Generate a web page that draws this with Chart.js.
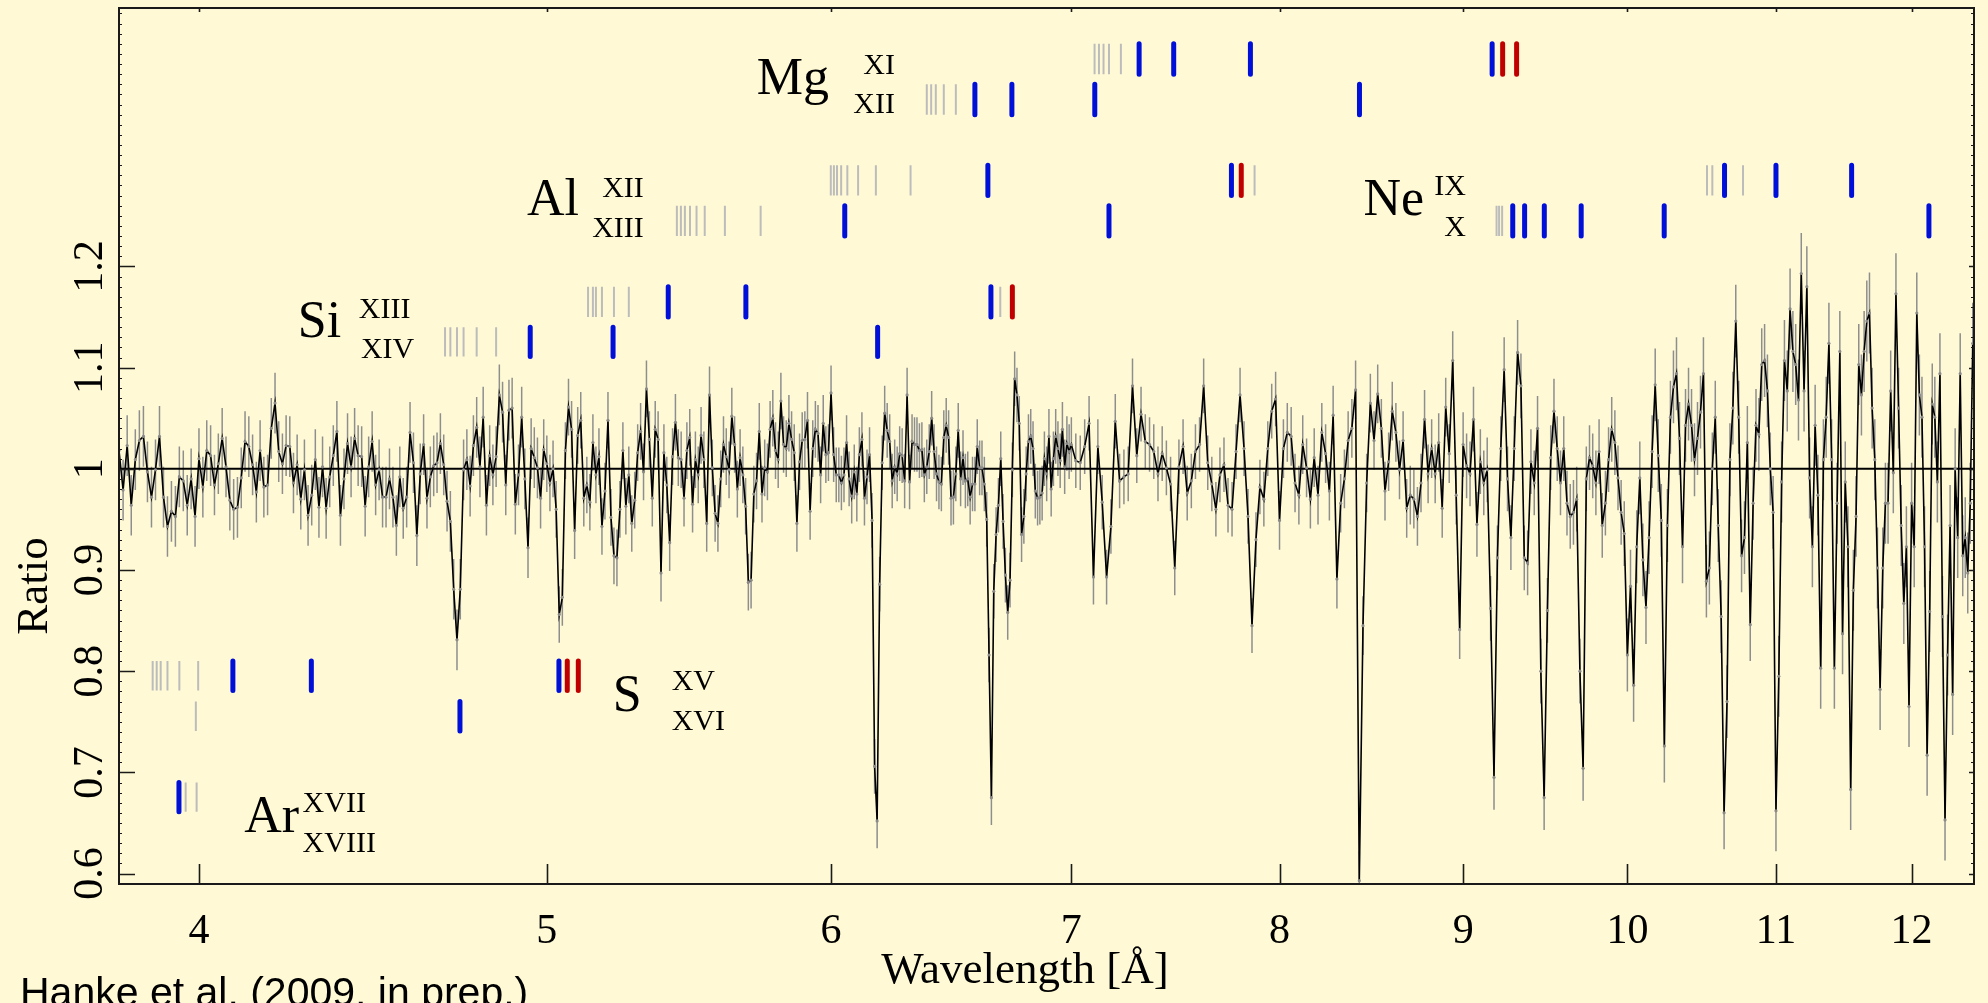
<!DOCTYPE html>
<html>
<head>
<meta charset="utf-8">
<script src="https://cdn.jsdelivr.net/npm/chart.js@4/dist/chart.umd.min.js"></script>
<style>
html,body{margin:0;padding:0;background:#FFFAD5;}
#wrap{width:1988px;height:1003px;position:relative;overflow:hidden;}
canvas{display:block;}
</style>
</head>
<body>
<div id="wrap"><canvas id="c" width="1988" height="1003"></canvas></div>
<script>
// ---------------- DATA ----------------
// Ratio spectrum, bins of 0.01 Å from 3.80 Å to 6.99 Å
const binStartA = 3.80, binWidthA = 0.01;
const ratioA = [
1.018,0.979,1.023,0.964,1.009,1.028,1.032,0.997,0.972,0.999,
1.032,0.972,0.943,0.958,0.953,0.992,0.988,0.964,0.990,0.953,
1.010,0.982,1.018,1.013,0.984,1.005,1.030,1.002,0.969,0.960,
0.962,0.991,1.027,1.022,1.004,0.977,1.018,0.982,0.984,1.040,
1.065,1.017,1.005,1.023,1.022,0.986,1.004,0.970,0.999,0.954,
0.974,1.009,0.962,1.002,0.961,0.992,1.013,1.037,0.954,0.990,
1.025,1.002,1.030,1.013,1.012,0.963,1.002,1.027,0.984,0.999,
0.972,0.972,0.990,0.972,0.944,0.992,0.961,0.972,1.036,1.006,
0.934,0.995,1.024,0.971,0.992,1.003,1.006,1.025,1.004,0.968,
0.948,0.881,0.831,0.881,0.999,1.009,0.983,1.023,1.041,1.002,
1.051,0.964,1.013,0.994,1.012,1.073,1.056,0.984,1.058,1.060,
0.965,0.994,1.051,0.990,0.922,1.020,1.011,1.001,0.971,1.019,
1.005,0.986,1.000,0.960,0.856,0.873,1.018,1.061,1.039,0.939,
1.033,1.048,0.971,0.984,0.967,1.026,0.994,1.012,0.943,0.978,
1.048,0.952,0.914,0.912,0.960,1.018,0.963,0.994,0.946,0.969,
1.016,1.037,0.997,1.079,1.029,0.971,1.039,1.029,0.897,1.016,
0.984,0.927,1.012,1.046,1.011,1.009,0.971,1.018,1.031,0.965,
1.009,0.994,1.033,1.009,0.946,1.073,1.001,0.956,0.946,0.990,
1.024,1.012,0.999,1.052,1.024,0.980,1.011,0.994,0.963,0.888,
0.890,0.975,0.988,1.037,0.975,1.001,0.997,1.039,1.050,1.018,
1.009,1.067,1.024,1.020,1.045,1.029,1.016,0.946,1.007,1.028,
1.029,1.048,0.958,1.020,1.039,1.035,0.994,1.045,1.014,1.016,
1.075,1.014,0.994,0.994,0.986,0.994,1.026,0.990,0.973,0.997,
0.975,1.014,1.029,0.971,0.992,1.014,0.949,0.706,0.652,0.886,
1.006,1.055,1.038,1.027,0.988,1.002,0.995,1.015,1.013,0.988,
1.073,0.987,1.027,1.024,1.024,1.018,1.019,0.994,1.002,1.017,
1.050,1.017,0.995,0.987,0.985,1.031,1.043,1.031,0.971,0.972,
0.995,1.038,0.990,1.011,0.988,0.990,0.972,0.985,0.985,1.022,
1.001,1.001,0.985,0.950,0.816,0.675,0.879,0.935,0.964,1.010,
0.948,0.895,0.858,0.890,0.999,1.089,1.073,1.045,0.935,0.953,
0.995,1.027,1.032,1.020,0.978,0.971,0.972,0.976,1.010,0.995,
1.032,0.980,1.010,1.032,1.020,1.008,1.039,1.002,1.025,1.017
];
// Ratio spectrum, bins of 0.02 Å from 7.00 Å to 12.48 Å
const binStartB = 7.00, binWidthB = 0.02;
const ratioB = [
1.024,1.008,1.006,1.022,1.045,0.893,1.022,0.967,0.893,0.943,
1.047,0.988,0.992,0.995,1.082,1.013,1.054,1.027,1.024,1.017,
0.995,1.015,1.001,0.985,0.902,1.002,1.022,0.976,0.988,1.017,
1.024,1.082,1.006,0.985,0.960,0.994,1.004,0.964,0.960,1.017,
1.073,1.020,0.953,0.845,0.930,0.982,0.970,1.020,1.057,1.069,
0.949,1.020,1.036,1.032,0.986,0.974,1.024,1.001,0.970,1.011,
0.974,1.036,1.015,0.978,1.053,0.891,0.966,0.990,1.028,1.040,
1.078,0.593,0.845,0.986,1.065,1.028,1.074,1.040,0.978,1.007,
1.057,1.036,0.999,1.028,0.961,0.974,0.970,0.953,0.986,1.049,
0.995,1.020,0.995,1.026,0.961,1.061,1.015,1.107,0.974,0.841,
1.024,1.003,0.995,1.049,0.945,1.007,0.986,0.999,0.862,0.695,
0.912,1.020,1.098,0.990,0.932,1.020,1.115,1.082,0.912,0.907,
1.007,0.986,1.040,0.800,0.675,0.860,1.011,1.057,1.020,0.986,
1.020,0.966,0.953,0.957,0.970,0.800,0.704,0.990,1.011,1.003,
0.986,1.017,0.944,0.966,1.009,1.039,1.026,0.991,0.957,0.936,
0.816,0.884,0.786,0.923,0.991,0.910,0.863,0.932,1.017,1.083,
1.013,0.949,0.726,0.944,1.051,1.081,1.094,1.030,0.923,1.043,
1.064,1.043,1.009,1.030,1.056,1.094,0.889,0.902,1.000,1.051,
0.944,0.854,0.660,0.770,1.009,1.060,1.146,1.051,0.914,0.932,
1.026,0.846,0.966,1.043,1.034,1.103,1.107,1.077,1.000,0.957,
0.662,0.795,0.987,1.107,1.077,1.158,1.116,1.103,1.068,1.193,
1.077,1.180,0.991,0.923,1.043,0.974,0.803,1.009,1.051,1.124,
1.009,0.803,0.966,1.116,0.837,0.987,0.923,0.683,0.880,0.953,
1.103,1.073,1.116,1.146,1.154,1.060,1.009,0.902,0.782,0.902,
0.966,0.966,1.077,0.996,1.173,1.060,0.944,0.867,0.923,0.765,
0.966,0.923,1.154,1.073,1.051,0.923,0.717,0.859,1.064,1.051,
0.987,1.094,0.854,0.653,0.816,0.944,0.777,1.000,0.932,1.094,
0.914,0.932,0.897,0.966,1.124
];
// 1-sigma error sizes read per wavelength band
const errEdges = [3.8, 5.0, 6.0, 7.0, 8.0, 9.0, 10.0, 11.0, 12.6];
const errSizes = [0.030, 0.028, 0.027, 0.027, 0.029, 0.032, 0.036, 0.040];

// axis ticks
const xTicks = [4, 5, 6, 7, 8, 9, 10, 11, 12];
const yTicks = [0.6, 0.7, 0.8, 0.9, 1.0, 1.1, 1.2];
const yTickLabels = ['0.6', '0.7', '0.8', '0.9', '1', '1.1', '1.2'];

// line identifications (wavelengths in Å)
const mgXI   = { gray:[7.105,7.125,7.146,7.171,7.226], blue:[7.311,7.475,7.852,9.169], red:[9.231,9.314] };
const mgXII  = { gray:[6.380,6.398,6.417,6.450,6.500], blue:[6.580,6.738,7.106,8.421], red:[] };
const alXII  = { gray:[5.999,6.011,6.023,6.039,6.063,6.105,6.175,6.314,7.873], blue:[6.635,7.757], red:[7.806] };
const alXIII = { gray:[5.435,5.449,5.463,5.481,5.504,5.533,5.605,5.735], blue:[6.053,7.171], red:[] };
const neIX   = { gray:[10.524,10.560,10.770], blue:[10.643,11.000,11.547], red:[] };
const neX    = { gray:[9.195,9.210,9.228], blue:[9.291,9.362,9.481,9.708,10.239,12.134], red:[] };
const siXIII = { gray:[5.134,5.150,5.160,5.180,5.220,5.270,6.688], blue:[5.405,5.681,6.648], red:[6.740] };
const siXIV  = { gray:[4.684,4.700,4.720,4.740,4.780,4.840], blue:[4.947,5.217,6.182], red:[] };
const sXV    = { gray:[3.883,3.893,3.903,3.920,3.950,3.998], blue:[4.088,4.299,5.039], red:[5.066,5.102] };
const sXVI   = { gray:[3.992], blue:[4.729], red:[] };
const arXVII = { gray:[3.966,3.994], blue:[3.949], red:[] };

// ---------------- LAYOUT / STYLE ----------------
const ionRows = [
  [mgXI,   1.390, 1.420],
  [mgXII,  1.350, 1.380],
  [alXII,  1.270, 1.300],
  [alXIII, 1.230, 1.260],
  [neIX,   1.270, 1.300],
  [neX,    1.230, 1.260],
  [siXIII, 1.150, 1.180],
  [siXIV,  1.111, 1.140],
  [sXV,    0.781, 0.810],
  [sXVI,   0.741, 0.770],
  [arXVII, 0.661, 0.690]
];
const ionLabels = [
  ['Mg', 5.721, 1.3705, 52, 'left'], ['XI', 6.251, 1.390, 30, 'right'], ['XII', 6.251, 1.3517, 30, 'right'],
  ['Al', 4.937, 1.2505, 52, 'left'], ['XII', 5.321, 1.2688, 30, 'right'], ['XIII', 5.321, 1.2293, 30, 'right'],
  ['Si', 4.262, 1.1303, 52, 'left'], ['XIII', 4.432, 1.1494, 30, 'left'], ['XIV', 4.438, 1.1099, 30, 'left'],
  ['Ne', 8.443, 1.251, 52, 'left'], ['IX', 9.016, 1.2708, 30, 'right'], ['X', 9.016, 1.2303, 30, 'right'],
  ['S', 5.216, 0.7602, 52, 'left'], ['XV', 5.417, 0.781, 30, 'left'], ['XVI', 5.417, 0.7414, 30, 'left'],
  ['Ar', 4.118, 0.641, 52, 'left'], ['XVII', 4.275, 0.6607, 30, 'left'], ['XVIII', 4.275, 0.6212, 30, 'left']
];
const BG = '#FFFAD5';
const SERIF = '"Liberation Serif", "Times New Roman", serif';
const SANS = '"Liberation Sans", Arial, sans-serif';

// ---------------- BUILD ----------------
const spectrum = [];
ratioA.forEach((v, i) => spectrum.push({ x: +(binStartA + i * binWidthA).toFixed(3), y: v }));
ratioB.forEach((v, i) => spectrum.push({ x: +(binStartB + i * binWidthB).toFixed(3), y: v }));

function errFor(w) {
  for (let i = 0; i < errSizes.length; i++) if (w < errEdges[i + 1]) return errSizes[i];
  return errSizes[errSizes.length - 1];
}
function segData(kind) {
  const d = [];
  ionRows.forEach(([ion, y0, y1]) => {
    (ion[kind] || []).forEach(w => { d.push({ x: w, y: y0 }, { x: w, y: y1 }, { x: w, y: null }); });
  });
  return d;
}

const bgPlugin = {
  id: 'bg',
  beforeDraw(chart) {
    const ctx = chart.ctx;
    ctx.save(); ctx.fillStyle = BG; ctx.fillRect(0, 0, chart.width, chart.height); ctx.restore();
  }
};

const errPlugin = {
  id: 'errbars',
  beforeDatasetsDraw(chart) {
    const { ctx, chartArea: a, scales: { x, y } } = chart;
    ctx.save();
    ctx.beginPath(); ctx.rect(a.left, a.top, a.right - a.left, a.bottom - a.top); ctx.clip();
    ctx.strokeStyle = '#8e8e8e'; ctx.lineWidth = 1.5;
    ctx.beginPath();
    spectrum.forEach(p => {
      const e = errFor(p.x);
      const px = x.getPixelForValue(p.x);
      ctx.moveTo(px, y.getPixelForValue(p.y - e));
      ctx.lineTo(px, y.getPixelForValue(p.y + e));
    });
    ctx.stroke();
    ctx.restore();
  }
};

const axesPlugin = {
  id: 'axesframe',
  afterDraw(chart) {
    const { ctx, chartArea: a, scales: { x, y } } = chart;
    ctx.save();
    ctx.strokeStyle = '#1a1a1a'; ctx.fillStyle = '#000';
    // frame
    ctx.lineWidth = 2;
    ctx.strokeRect(a.left, a.top, a.right - a.left, a.bottom - a.top);
    // minor y ticks
    ctx.lineWidth = 1;
    ctx.beginPath();
    for (let v = 0.59; v <= 1.455; v += 0.01) {
      const py = Math.round(y.getPixelForValue(v)) + 0.5;
      ctx.moveTo(a.left, py); ctx.lineTo(a.left + 3, py);
      ctx.moveTo(a.right, py); ctx.lineTo(a.right - 3, py);
    }
    ctx.stroke();
    // major ticks
    ctx.lineWidth = 1.6;
    ctx.beginPath();
    xTicks.forEach(t => {
      const px = Math.round(x.getPixelForValue(t)) + 0.5;
      ctx.moveTo(px, a.bottom); ctx.lineTo(px, a.bottom - 20);
      ctx.moveTo(px, a.top); ctx.lineTo(px, a.top + 4);
    });
    yTicks.forEach(t => {
      const py = Math.round(y.getPixelForValue(t)) + 0.5;
      ctx.moveTo(a.left, py); ctx.lineTo(a.left + 16, py);
      ctx.moveTo(a.right, py); ctx.lineTo(a.right - 5, py);
    });
    ctx.stroke();
    // tick labels
    ctx.font = '42px ' + SERIF;
    ctx.textAlign = 'center'; ctx.textBaseline = 'alphabetic';
    xTicks.forEach(t => ctx.fillText(String(t), x.getPixelForValue(t), 943));
    yTicks.forEach((t, i) => {
      ctx.save();
      ctx.translate(102, y.getPixelForValue(t));
      ctx.rotate(-Math.PI / 2);
      ctx.fillText(yTickLabels[i], 0, 0);
      ctx.restore();
    });
    // axis titles
    ctx.font = '45px ' + SERIF;
    ctx.fillText('Wavelength [Å]', 1025, 983);
    ctx.save();
    ctx.translate(47, 586); ctx.rotate(-Math.PI / 2);
    ctx.fillText('Ratio', 0, 0);
    ctx.restore();
    // ion labels
    ionLabels.forEach(([txt, w, v, size, align]) => {
      ctx.font = size + 'px ' + SERIF;
      ctx.textAlign = align;
      ctx.fillText(txt, x.getPixelForValue(w), y.getPixelForValue(v));
    });
    // credit
    ctx.font = '41px ' + SANS;
    ctx.textAlign = 'left';
    ctx.fillText('Hanke et al. (2009, in prep.)', 20, 1006);
    ctx.restore();
  }
};

new Chart(document.getElementById('c'), {
  type: 'line',
  data: {
    datasets: [
      {
        label: 'ratio', data: spectrum,
        borderColor: '#000', borderWidth: 1.6, tension: 0,
        pointRadius: 1.6, pointBackgroundColor: '#8a8a8a', pointBorderWidth: 0,
        fill: false
      },
      {
        label: 'unity', data: [{ x: 3.80, y: 1 }, { x: 12.49, y: 1 }],
        borderColor: '#000', borderWidth: 2, pointRadius: 0, fill: false
      },
      {
        label: 'blue', data: segData('blue'), borderColor: '#0010d8', borderWidth: 5,
        borderCapStyle: 'round', pointRadius: 0, spanGaps: false, fill: false
      },
      {
        label: 'red', data: segData('red'), borderColor: '#c00000', borderWidth: 5,
        borderCapStyle: 'round', pointRadius: 0, spanGaps: false, fill: false
      },
      {
        label: 'gray', data: segData('gray'), borderColor: '#bcbcbc', borderWidth: 2,
        borderCapStyle: 'butt', pointRadius: 0, spanGaps: false, fill: false
      }
    ]
  },
  options: {
    responsive: false, animation: false, devicePixelRatio: 1, events: [],
    layout: { padding: { left: 119, top: 8, right: 14, bottom: 119 } },
    plugins: { legend: { display: false }, tooltip: { enabled: false } },
    scales: {
      x: { type: 'logarithmic', min: 3.80, max: 12.49, display: false },
      y: { type: 'linear', min: 0.5897, max: 1.4554, display: false }
    }
  },
  plugins: [bgPlugin, errPlugin, axesPlugin]
});
</script>
</body>
</html>
